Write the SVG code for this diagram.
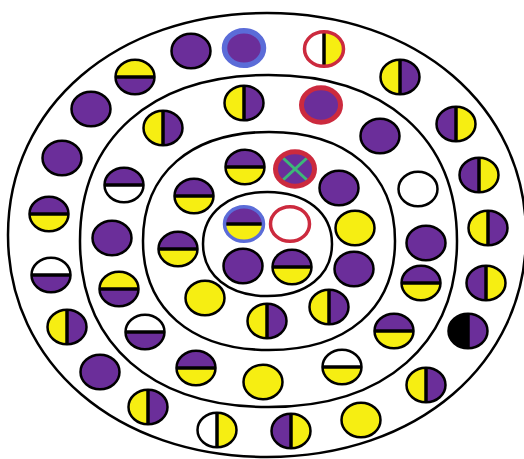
<svg xmlns="http://www.w3.org/2000/svg" xmlns:xlink="http://www.w3.org/1999/xlink" width="524" height="459" viewBox="0 0 524 459">
<style>
.p{fill:#6b2e9a}.y{fill:#f6ee12}.w{fill:#fff}.k{fill:#000}
.ol{fill:none;stroke:#000;stroke-width:2.5}
.sl{stroke:#000;stroke-width:3.5}
.rd{fill:none;stroke:#cc2a3e;stroke-width:3.5}
.rd2{fill:none;stroke:#cc2a3e;stroke-width:5}
.bl{fill:none;stroke:#5b6cd8;stroke-width:5.5}
.bl2{fill:none;stroke:#5b6cd8;stroke-width:3.5}
.ring{fill:none;stroke:#000;stroke-width:2.5}
.gx{stroke:#3cb878;stroke-width:3}
</style>
<defs>
<ellipse id="o" cx="0" cy="0" rx="19.5" ry="17.3"/>
<path id="L" d="M0,-17.3 A19.5 17.3 0 0 0 0,17.3 Z"/>
<path id="R" d="M0,-17.3 A19.5 17.3 0 0 1 0,17.3 Z"/>
<path id="T" d="M-19.5,0 A19.5 17.3 0 0 1 19.5,0 Z"/>
<path id="B" d="M-19.5,0 A19.5 17.3 0 0 0 19.5,0 Z"/>
<line id="vl" x1="0" y1="-17.3" x2="0" y2="17.3"/>
<line id="hl" x1="-19.5" y1="0" x2="19.5" y2="0"/>
</defs>
<rect width="524" height="459" fill="#fff"/>
<g id="rings">
<path class="ring" d="M526,235 C526,363.8 417.2,457 267,457 C116.8,457 8,363.8 8,235 C8,106.2 116.8,13 267,13 C417.2,13 526,106.2 526,235 Z"/>
<path class="ring" d="M457,241 C457,343.9 385.4,407 268.5,407 C151.6,407 80,343.9 80,241 C80,138.1 151.6,75 268.5,75 C385.4,75 457,138.1 457,241 Z"/>
<path class="ring" d="M395,241 C395,308.6 347.1,350 269,350 C190.9,350 143,308.6 143,241 C143,173.4 190.9,132 269,132 C347.1,132 395,173.4 395,241 Z"/>
<path class="ring" d="M332,244 C332,275.2 306.2,296 267.5,296 C228.8,296 203,275.2 203,244 C203,212.8 228.8,192 267.5,192 C306.2,192 332,212.8 332,244 Z"/>
</g>
<g id="connectors"/>
<!-- outer band -->
<g id="d1" transform="translate(135,77)"><use href="#T" class="y"/><use href="#B" class="p"/><use href="#hl" class="sl"/><use href="#o" class="ol"/></g>
<g id="d2" transform="translate(191,51)"><use href="#o" class="p"/><use href="#o" class="ol"/></g>
<g id="d3" transform="translate(244,48)"><use href="#o" class="p"/><use href="#o" class="bl"/></g>
<g id="d4" transform="translate(324,49)"><use href="#L" class="w"/><use href="#R" class="y"/><use href="#vl" class="sl"/><use href="#o" class="rd"/></g>
<g id="d5" transform="translate(400,77)"><use href="#L" class="y"/><use href="#R" class="p"/><use href="#vl" class="sl"/><use href="#o" class="ol"/></g>
<g id="d6" transform="translate(456,124)"><use href="#L" class="p"/><use href="#R" class="y"/><use href="#vl" class="sl"/><use href="#o" class="ol"/></g>
<g id="d7" transform="translate(479,175)"><use href="#L" class="p"/><use href="#R" class="y"/><use href="#vl" class="sl"/><use href="#o" class="ol"/></g>
<g id="d8" transform="translate(488,228)"><use href="#L" class="y"/><use href="#R" class="p"/><use href="#vl" class="sl"/><use href="#o" class="ol"/></g>
<g id="d9" transform="translate(486,283)"><use href="#L" class="p"/><use href="#R" class="y"/><use href="#vl" class="sl"/><use href="#o" class="ol"/></g>
<g id="d10" transform="translate(468,331)"><use href="#L" class="k"/><use href="#R" class="p"/><use href="#vl" class="sl"/><use href="#o" class="ol"/></g>
<g id="d11" transform="translate(426,385)"><use href="#L" class="y"/><use href="#R" class="p"/><use href="#vl" class="sl"/><use href="#o" class="ol"/></g>
<g id="d12" transform="translate(361,420)"><use href="#o" class="y"/><use href="#o" class="ol"/></g>
<g id="d13" transform="translate(291,431)"><use href="#L" class="p"/><use href="#R" class="y"/><use href="#vl" class="sl"/><use href="#o" class="ol"/></g>
<g id="d14" transform="translate(217,430)"><use href="#L" class="w"/><use href="#R" class="y"/><use href="#vl" class="sl"/><use href="#o" class="ol"/></g>
<g id="d15" transform="translate(148,407)"><use href="#L" class="y"/><use href="#R" class="p"/><use href="#vl" class="sl"/><use href="#o" class="ol"/></g>
<g id="d16" transform="translate(100,372)"><use href="#o" class="p"/><use href="#o" class="ol"/></g>
<g id="d17" transform="translate(67,327)"><use href="#L" class="y"/><use href="#R" class="p"/><use href="#vl" class="sl"/><use href="#o" class="ol"/></g>
<g id="d18" transform="translate(51,275)"><use href="#T" class="w"/><use href="#B" class="p"/><use href="#hl" class="sl"/><use href="#o" class="ol"/></g>
<g id="d19" transform="translate(49,214)"><use href="#T" class="p"/><use href="#B" class="y"/><use href="#hl" class="sl"/><use href="#o" class="ol"/></g>
<g id="d20" transform="translate(62,158)"><use href="#o" class="p"/><use href="#o" class="ol"/></g>
<g id="d21" transform="translate(91,109)"><use href="#o" class="p"/><use href="#o" class="ol"/></g>
<!-- second band -->
<g id="d22" transform="translate(244,103)"><use href="#L" class="y"/><use href="#R" class="p"/><use href="#vl" class="sl"/><use href="#o" class="ol"/></g>
<g id="d23" transform="translate(321,105)"><use href="#o" class="p"/><use href="#o" class="rd2"/></g>
<g id="d24" transform="translate(380,136)"><use href="#o" class="p"/><use href="#o" class="ol"/></g>
<g id="d25" transform="translate(418,189)"><use href="#o" class="w"/><use href="#o" class="ol"/></g>
<g id="d26" transform="translate(426,243)"><use href="#o" class="p"/><use href="#o" class="ol"/></g>
<g id="d27" transform="translate(421,283)"><use href="#T" class="p"/><use href="#B" class="y"/><use href="#hl" class="sl"/><use href="#o" class="ol"/></g>
<g id="d28" transform="translate(394,331)"><use href="#T" class="p"/><use href="#B" class="y"/><use href="#hl" class="sl"/><use href="#o" class="ol"/></g>
<g id="d29" transform="translate(342,367)"><use href="#T" class="w"/><use href="#B" class="y"/><use href="#hl" class="sl"/><use href="#o" class="ol"/></g>
<g id="d30" transform="translate(263,382)"><use href="#o" class="y"/><use href="#o" class="ol"/></g>
<g id="d31" transform="translate(196,368)"><use href="#T" class="p"/><use href="#B" class="y"/><use href="#hl" class="sl"/><use href="#o" class="ol"/></g>
<g id="d32" transform="translate(145,332)"><use href="#T" class="w"/><use href="#B" class="p"/><use href="#hl" class="sl"/><use href="#o" class="ol"/></g>
<g id="d33" transform="translate(119,289)"><use href="#T" class="y"/><use href="#B" class="p"/><use href="#hl" class="sl"/><use href="#o" class="ol"/></g>
<g id="d34" transform="translate(112,238)"><use href="#o" class="p"/><use href="#o" class="ol"/></g>
<g id="d35" transform="translate(124,185)"><use href="#T" class="p"/><use href="#B" class="w"/><use href="#hl" class="sl"/><use href="#o" class="ol"/></g>
<g id="d36" transform="translate(163,128)"><use href="#L" class="y"/><use href="#R" class="p"/><use href="#vl" class="sl"/><use href="#o" class="ol"/></g>
<!-- third band -->
<g id="d37" transform="translate(245,167)"><use href="#T" class="p"/><use href="#B" class="y"/><use href="#hl" class="sl"/><use href="#o" class="ol"/></g>
<g id="d38" transform="translate(295,169)"><use href="#o" class="p"/><line class="gx" x1="-12" y1="-11" x2="12" y2="11"/><line class="gx" x1="-12" y1="11" x2="12" y2="-11"/><use href="#o" class="rd2"/></g>
<g id="d39" transform="translate(339,188)"><use href="#o" class="p"/><use href="#o" class="ol"/></g>
<g id="d40" transform="translate(355,228)"><use href="#o" class="y"/><use href="#o" class="ol"/></g>
<g id="d41" transform="translate(354,269)"><use href="#o" class="p"/><use href="#o" class="ol"/></g>
<g id="d42" transform="translate(329,307)"><use href="#L" class="y"/><use href="#R" class="p"/><use href="#vl" class="sl"/><use href="#o" class="ol"/></g>
<g id="d43" transform="translate(267,321)"><use href="#L" class="y"/><use href="#R" class="p"/><use href="#vl" class="sl"/><use href="#o" class="ol"/></g>
<g id="d44" transform="translate(205,298)"><use href="#o" class="y"/><use href="#o" class="ol"/></g>
<g id="d45" transform="translate(178,249)"><use href="#T" class="p"/><use href="#B" class="y"/><use href="#hl" class="sl"/><use href="#o" class="ol"/></g>
<g id="d46" transform="translate(194,196)"><use href="#T" class="p"/><use href="#B" class="y"/><use href="#hl" class="sl"/><use href="#o" class="ol"/></g>
<!-- inner -->
<g id="d47" transform="translate(244,224)"><use href="#T" class="p"/><use href="#B" class="y"/><use href="#hl" class="sl"/><use href="#o" class="bl2"/></g>
<g id="d48" transform="translate(290,224)"><use href="#o" class="w"/><use href="#o" class="rd"/></g>
<g id="d49" transform="translate(243,266)"><use href="#o" class="p"/><use href="#o" class="ol"/></g>
<g id="d50" transform="translate(292,267)"><use href="#T" class="p"/><use href="#B" class="y"/><use href="#hl" class="sl"/><use href="#o" class="ol"/></g>
</svg>
